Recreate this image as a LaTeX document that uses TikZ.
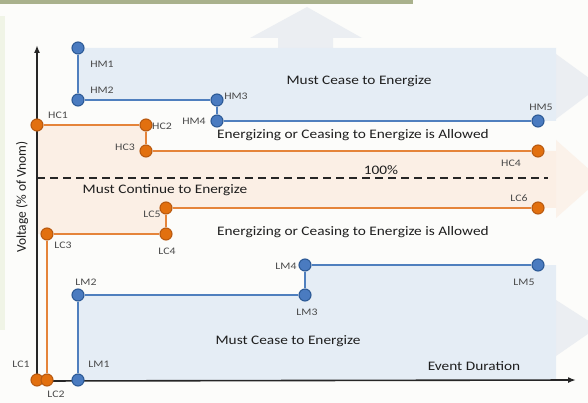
\documentclass[tikz,border=0pt]{standalone}
\usepackage{fontspec}
\setmainfont{Carlito}
\usetikzlibrary{arrows.meta}

\definecolor{pagebg}{HTML}{FCFCFA}
\definecolor{olivebar}{HTML}{A9B18C}
\definecolor{greenstrip}{HTML}{F0F4E6}
\definecolor{zoneblue}{HTML}{E5EDF5}
\definecolor{zonearrow}{HTML}{EBEEF2}
\definecolor{zoneorange}{HTML}{FBEFE5}
\definecolor{arroworange}{HTML}{FBF2EA}
\definecolor{blueline}{HTML}{4F7FBE}
\definecolor{bluedot}{HTML}{4A7BC0}
\definecolor{blueedge}{HTML}{2C5A96}
\definecolor{orangeline}{HTML}{E5843A}
\definecolor{orangedot}{HTML}{E2700F}
\definecolor{orangeedge}{HTML}{B95A10}
\definecolor{labelgray}{HTML}{4A4A4A}
\definecolor{textdark}{HTML}{1E1E1E}

\tikzset{
  bdot/.style={circle, fill=bluedot, draw=blueedge, line width=1.1pt, inner sep=0pt, minimum size=12pt},
  odot/.style={circle, fill=orangedot, draw=orangeedge, line width=1.1pt, inner sep=0pt, minimum size=12pt},
  bline/.style={draw=blueline, line width=2.4pt},
  oline/.style={draw=orangeline, line width=2.4pt},
  ptlabel/.style={font=\fontsize{10}{12}\selectfont, text=labelgray, xscale=1.18, inner sep=0pt},
  zonetext/.style={font=\fontsize{13}{15}\selectfont, text=textdark, xscale=1.18, inner sep=0pt},
  axisline/.style={draw=black!85, line width=1.6pt},
}

\begin{document}
\begin{tikzpicture}[x=1pt, y=-1pt]
\useasboundingbox (0,0) rectangle (588,403);

% page background and frame strips
\fill[pagebg] (0,0) rectangle (588,403);
\fill[olivebar] (0,0) rectangle (413,4);
\fill[greenstrip] (0,16) rectangle (5,330);

% faint direction arrows behind the zones
\fill[zonearrow] (250,38) -- (307,7) -- (362,38) -- (333,38) -- (333,50) -- (278,50) -- (278,38) -- cycle;
\fill[zonearrow] (556,54) -- (600,86) -- (556,119) -- cycle;
\fill[arroworange] (556,140) -- (600,179) -- (556,218) -- cycle;
\fill[zonearrow] (556,300) -- (598,327) -- (556,356) -- cycle;

% upper must-cease zone
\fill[zoneblue] (78,48) -- (556,48) -- (556,121) -- (217,121) -- (217,100) -- (78,100) -- cycle;
% continuous-operation zone
\fill[zoneorange] (37,125) -- (146,125) -- (146,151) -- (556,151) -- (556,208) -- (166,208) -- (166,234) -- (37,234) -- cycle;
% lower must-cease zone
\fill[zoneblue] (78,295) -- (305,295) -- (305,265) -- (556,265) -- (556,380) -- (78,380) -- cycle;

% nominal voltage
\coordinate (dashL) at (37,178);
\coordinate (dashR) at (548,178);
\draw[black!85, line width=1.6pt, dash pattern=on 8pt off 5pt] (dashL) -- (dashR);

% axes
\coordinate (origin) at (37,381);
\coordinate (ytop) at (37,45);
\coordinate (xend) at (576,380);
\coordinate (ybot) at (37,384);
\draw[axisline, -{Latex[length=8pt,width=6pt]}] (ybot) -- (ytop);
\draw[axisline, -{Latex[length=8pt,width=6pt]}] (origin) -- (xend);

% trip points
\node[bdot] (HM1) at (78,48) {};
\node[bdot] (HM2) at (78,100) {};
\node[bdot] (HM3) at (217,100) {};
\node[bdot] (HM4) at (217,121) {};
\node[bdot] (HM5) at (538,121) {};

\node[odot] (HC1) at (37,125) {};
\node[odot] (HC2) at (146,125) {};
\node[odot] (HC3) at (146,151) {};
\node[odot] (HC4) at (538,151) {};

\node[odot] (LC1) at (37,380) {};
\node[odot] (LC2) at (47,380) {};
\node[odot] (LC3) at (47,234) {};
\node[odot] (LC4) at (166,234) {};
\node[odot] (LC5) at (166,208) {};
\node[odot] (LC6) at (538,208) {};

\node[bdot] (LM1) at (78,380) {};
\node[bdot] (LM2) at (78,295) {};
\node[bdot] (LM3) at (305,295) {};
\node[bdot] (LM4) at (305,265) {};
\node[bdot] (LM5) at (538,265) {};

% boundary curves
\draw[bline] (HM1) -- (HM2) -- (HM3) -- (HM4) -- (HM5);
\draw[oline] (HC1) -- (HC2) -- (HC3) -- (HC4);
\draw[oline] (LC2) -- (LC3) -- (LC4) -- (LC5) -- (LC6);
\draw[bline] (LM1) -- (LM2) -- (LM3) -- (LM4) -- (LM5);

% point labels
\node[ptlabel] (HM1l) at (102,64) {HM1};
\node[ptlabel] (HM2l) at (102,90) {HM2};
\node[ptlabel] (HM3l) at (236,96) {HM3};
\node[ptlabel] (HM4l) at (194,121) {HM4};
\node[ptlabel] (HM5l) at (541,107) {HM5};
\node[ptlabel] (HC1l) at (58,115) {HC1};
\node[ptlabel] (HC2l) at (162,126) {HC2};
\node[ptlabel] (HC3l) at (125,147) {HC3};
\node[ptlabel] (HC4l) at (511,163) {HC4};
\node[ptlabel] (LC6l) at (519,198) {LC6};
\node[ptlabel] (LC5l) at (152,214) {LC5};
\node[ptlabel] (LC4l) at (167,251) {LC4};
\node[ptlabel] (LC3l) at (63,245) {LC3};
\node[ptlabel] (LC1l) at (21,364) {LC1};
\node[ptlabel] (LC2l) at (56,394) {LC2};
\node[ptlabel] (LM1l) at (99,364) {LM1};
\node[ptlabel] (LM2l) at (86,282) {LM2};
\node[ptlabel] (LM3l) at (307,312) {LM3};
\node[ptlabel] (LM4l) at (286,266) {LM4};
\node[ptlabel] (LM5l) at (524,282) {LM5};

% zone and axis texts
\node[zonetext] (ceaseHigh) at (359,81) {Must Cease to Energize};
\node[zonetext] (allowHigh) at (353,135) {Energizing or Ceasing to Energize is Allowed};
\node[zonetext] (nominal) at (381,170) {100\%};
\node[zonetext] (cont) at (165,190) {Must Continue to Energize};
\node[zonetext] (allowLow) at (353,232) {Energizing or Ceasing to Energize is Allowed};
\node[zonetext] (ceaseLow) at (288,341) {Must Cease to Energize};
\node[zonetext] (duration) at (474,366) {Event Duration};
\node[font=\fontsize{13.5}{15}\selectfont, text=textdark, rotate=90, inner sep=0pt] (vlabel) at (22,197) {Voltage (\% of Vnom)};

\end{tikzpicture}
\end{document}
